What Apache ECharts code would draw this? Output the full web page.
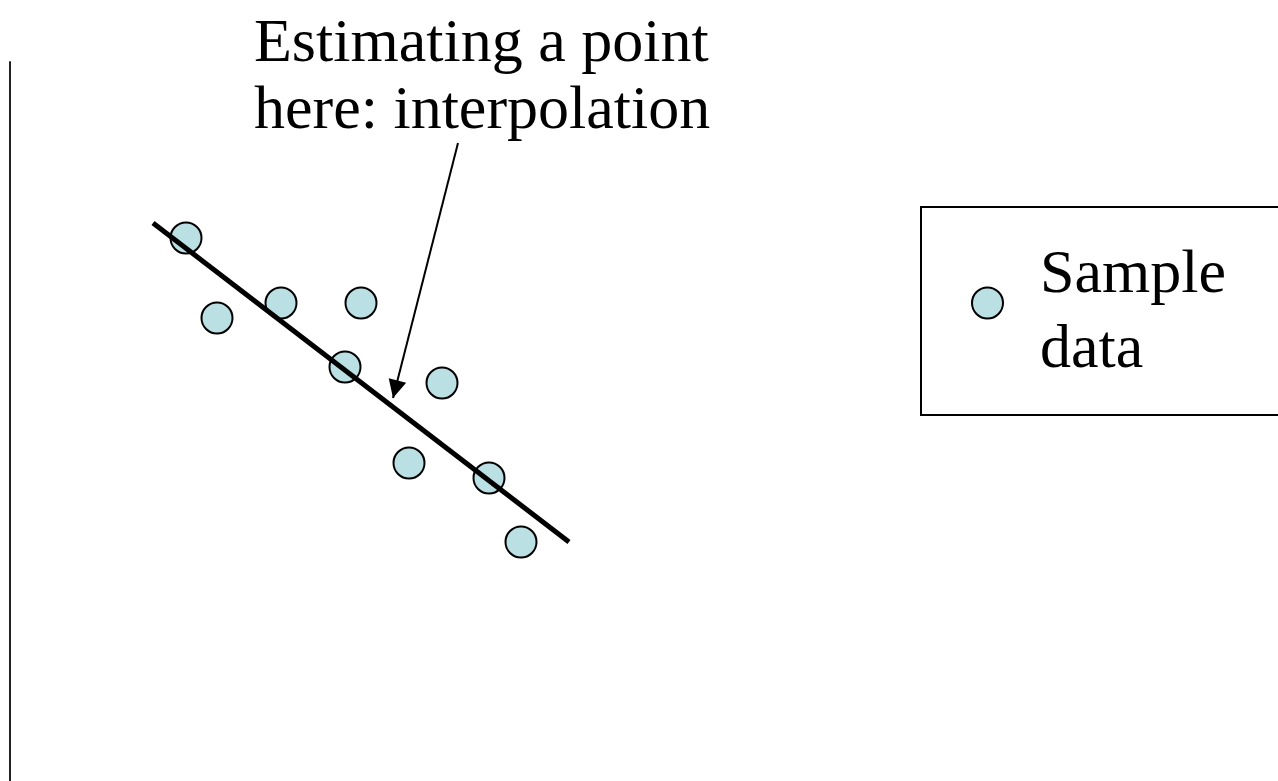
<!DOCTYPE html>
<html>
<head>
<meta charset="utf-8">
<script src="https://cdn.jsdelivr.net/npm/echarts@6/dist/echarts.min.js"></script>
<style>
html, body { margin: 0; padding: 0; background: #fff; }
#chart { width: 1278px; height: 781px; }
</style>
</head>
<body>
<div id="chart"></div>
<script>
// Sample measurements
const sampleX = [1.76, 2.07, 2.71, 3.51, 3.35, 4.32, 3.99, 4.79, 5.11];
const sampleY = [6.24, 5.44, 5.59, 5.59, 4.95, 4.79, 3.99, 3.84, 3.20];

// Fitted straight line through the samples (two end points)
const fitX = [1.43, 5.59];
const fitY = [6.39, 3.20];

// Annotation arrow: from the caption down to the estimated point on the line
const arrowFrom = [4.48, 7.19];
const arrowTo = [3.83, 4.64];

const captionLines = ['Estimating a point', 'here: interpolation'];
const sampleName = 'Sample\ndata';

const serif = '"Liberation Serif", "Times New Roman", serif';
const pointFill = '#bbe0e3';

const samples = sampleX.map((x, i) => [x, sampleY[i]]);
const fitLine = fitX.map((x, i) => [x, fitY[i]]);

const chart = echarts.init(document.getElementById('chart'), null, { renderer: 'canvas' });

chart.setOption({
  animation: false,
  backgroundColor: '#fff',
  title: {
    text: captionLines.join('\n'),
    left: 254,
    top: 11,
    padding: 0,
    textStyle: {
      fontFamily: serif,
      fontSize: 62,
      lineHeight: 67,
      fontWeight: 'normal',
      color: '#000'
    }
  },
  legend: {
    data: [sampleName],
    left: 921,
    top: 207,
    orient: 'vertical',
    padding: [11, 80, 27, 50],
    borderColor: '#000',
    borderWidth: 2,
    icon: 'circle',
    itemWidth: 31,
    itemHeight: 31,
    selectedMode: false,
    itemStyle: { color: pointFill, borderColor: '#000', borderWidth: 2 },
    // a thin empty first line pushes the two text lines below the marker centre
    formatter: name => '{gap|}\n' + name.split('\n').map(s => '{t|' + s + '}').join('\n'),
    textStyle: {
      fontFamily: serif,
      fontSize: 62,
      lineHeight: 75,
      color: '#000',
      padding: [0, 0, 0, 32],
      rich: {
        gap: { fontSize: 2, lineHeight: 20 },
        t: { fontFamily: serif, fontSize: 62, lineHeight: 75, color: '#000' }
      }
    }
  },
  grid: { left: 10, top: 62, width: 1000, height: 800, outerBoundsMode: 'none' },
  xAxis: {
    type: 'value',
    min: 0,
    max: 10,
    show: false
  },
  yAxis: {
    type: 'value',
    min: 0,
    max: 8,
    axisLine: { show: true, lineStyle: { color: '#222', width: 2 } },
    axisTick: { show: false },
    axisLabel: { show: false },
    splitLine: { show: false }
  },
  series: [
    {
      name: sampleName,
      type: 'scatter',
      data: samples,
      symbol: 'circle',
      symbolSize: 31,
      itemStyle: { color: pointFill, borderColor: '#000', borderWidth: 2, opacity: 1 },
      silent: true,
      markLine: {
        silent: true,
        symbol: ['none', 'triangle'],
        // the end head is shifted back so its tip sits on the target point
        symbolSize: 18,
        symbolOffset: [0, [0, 9]],
        label: { show: false },
        lineStyle: { color: '#000', width: 2, type: 'solid' },
        data: [[{ coord: arrowFrom }, { coord: arrowTo }]]
      }
    },
    {
      name: 'fit',
      type: 'line',
      data: fitLine,
      showSymbol: false,
      symbol: 'none',
      silent: true,
      lineStyle: { color: '#000', width: 5 }
    }
  ]
});
</script>
</body>
</html>
